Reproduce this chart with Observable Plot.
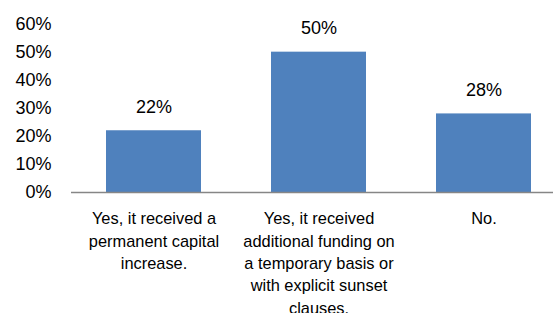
<!DOCTYPE html>
<html>
<head>
<meta charset="utf-8">
<script src="https://cdn.jsdelivr.net/npm/d3@7"></script>
<script src="https://cdn.jsdelivr.net/npm/@observablehq/plot@0.6"></script>
<style>
  html, body { margin: 0; padding: 0; background: #fff; }
  svg { display: block; }
</style>
</head>
<body>
<div id="chart"></div>
<script>
const categories = [
  "Yes, it received a\npermanent capital\nincrease.",
  "Yes, it received\nadditional funding on\na temporary basis or\nwith explicit sunset\nclauses.",
  "No."
];
const values = [0.22, 0.50, 0.28];
const valueLabels = ["22%", "50%", "28%"];
const yTicks = [0, 0.1, 0.2, 0.3, 0.4, 0.5, 0.6];

const data = categories.map((c, i) => ({cat: c, value: values[i], label: valueLabels[i]}));

const font = "'Liberation Sans', Arial, sans-serif";

const chart = Plot.plot({
  width: 553,
  height: 313,
  marginLeft: 71,
  marginRight: 0,
  marginTop: 0,
  marginBottom: 0,
  style: {fontFamily: font, fontSize: "16px", color: "#000", background: "#fff"},
  x: {domain: categories, range: [71, 566], paddingInner: 0.424, paddingOuter: 0.212, axis: null},
  y: {domain: [0, 0.6], range: [192, 23.6], axis: null},
  marks: [
    Plot.barY(data, {x: "cat", y: "value", fill: "#4F81BD"}),
    Plot.ruleY([0], {stroke: "#868686", strokeWidth: 1.3}),
    Plot.axisY({ticks: yTicks, label: null, tickFormat: d => Math.round(d * 100) + "%", tickSize: 0, tickPadding: 20, fontSize: 18, fill: "#000"}),
    Plot.text(data, {x: "cat", y: 0, text: "cat", dy: 16, lineAnchor: "top", lineHeight: 1.36, fontSize: 16.4, fill: "#000"}),
    Plot.text(data, {x: "cat", y: "value", text: "label", dy: -24, fontSize: 18, fill: "#000"})
  ]
});
document.getElementById("chart").appendChild(chart);
</script>
</body>
</html>
